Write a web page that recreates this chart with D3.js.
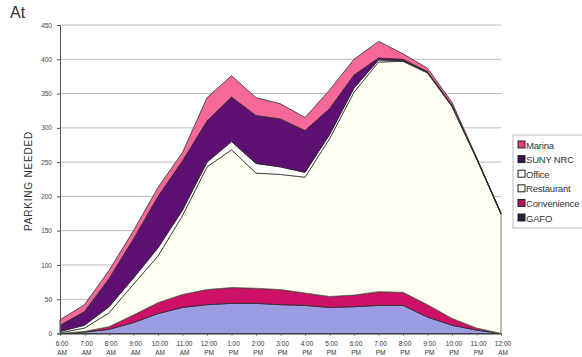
<!DOCTYPE html>
<html>
<head>
<meta charset="utf-8">
<script src="https://cdn.jsdelivr.net/npm/d3@7"></script>
<style>
  body { margin: 0; background: #fff; }
  svg { display: block; font-family: Arial, "Liberation Sans", sans-serif; }
</style>
</head>
<body>
<svg id="chart" width="582" height="357"></svg>
<script>
const HOURS = ['6:00 AM', '7:00 AM', '8:00 AM', '9:00 AM', '10:00 AM', '11:00 AM', '12:00 PM',
  '1:00 PM', '2:00 PM', '3:00 PM', '4:00 PM', '5:00 PM', '6:00 PM', '7:00 PM', '8:00 PM',
  '9:00 PM', '10:00 PM', '11:00 PM', '12:00 AM']

// stacked bottom -> top
const GAFO = [0, 2, 6, 16, 29, 38, 42, 44, 44, 42, 41, 38, 39, 41, 41, 24, 12, 5, 0]
const CONVENIENCE = [0, 1, 4, 11, 16, 19, 22, 23, 22, 22, 18, 16, 17, 20, 19, 18, 10, 3, 0]
const RESTAURANT = [1, 5, 20, 45, 68, 115, 179, 201, 168, 168, 169, 230, 296, 335, 337, 338, 309, 247, 174]
const OFFICE = [2, 4, 9, 9, 12, 8, 7, 12, 14, 11, 7, 6, 6, 3, 1, 1, 1, 1, 1]
const SUNY_NRC = [9, 20, 41, 57, 75, 72, 60, 65, 70, 70, 61, 38, 19, 3, 2, 1, 1, 0, 0]
const MARINA = [8, 10, 12, 12, 13, 12, 34, 31, 26, 22, 19, 27, 23, 24, 8, 5, 4, 1, 0]

const Y_TICKS = [0, 50, 100, 150, 200, 250, 300, 350, 400, 450]

const series = [
  {key: 'GAFO', values: GAFO, fill: '#9c9ce2', swatch: '#2a2040'},
  {key: 'Convenience', values: CONVENIENCE, fill: '#cc1166', swatch: '#b0105a'},
  {key: 'Restaurant', values: RESTAURANT, fill: '#fffff2', swatch: '#ffffff'},
  {key: 'Office', values: OFFICE, fill: '#ffffff', swatch: '#ffffff'},
  {key: 'SUNY NRC', values: SUNY_NRC, fill: '#5e0f72', swatch: '#3a1050'},
  {key: 'Marina', values: MARINA, fill: '#f7689a', swatch: '#e0447f'},
]

const rows = HOURS.map((h, i) => {
  const row = {hour: h}
  series.forEach((s) => { row[s.key] = s.values[i] })
  return row
})

const svg = d3.select('#chart')
const margins = {top: 25, right: 81, bottom: 23.5, left: 60}
const width = 582 - margins.left - margins.right
const height = 357 - margins.top - margins.bottom

const x = d3.scalePoint().domain(HOURS).range([margins.left, margins.left + width])
const y = d3.scaleLinear().domain([0, 450]).range([margins.top + height, margins.top])

// title
svg.append('text')
  .attr('x', 10).attr('y', 18)
  .attr('font-size', 16)
  .attr('fill', '#333')
  .text('At')

// gridlines
svg.append('g')
  .selectAll('line')
  .data(Y_TICKS.filter((d) => d > 0))
  .join('line')
  .attr('x1', margins.left).attr('x2', margins.left + width)
  .attr('y1', (d) => y(d)).attr('y2', (d) => y(d))
  .attr('stroke', '#a8a8a8')
  .attr('stroke-width', 0.8)

// stacked areas
const stack = d3.stack().keys(series.map((s) => s.key))
const layers = stack(rows)
const area = d3.area()
  .x((d) => x(d.data.hour))
  .y0((d) => y(d[0]))
  .y1((d) => y(d[1]))

svg.append('g')
  .selectAll('path')
  .data(layers)
  .join('path')
  .attr('d', area)
  .attr('fill', (d, i) => series[i].fill)
  .attr('stroke', (d, i) => series[i].key === 'Restaurant' ? '#4a5a40' : '#2a2a2a')
  .attr('stroke-width', 0.8)
  .attr('stroke-linejoin', 'round')

// y axis
const yAxis = svg.append('g')
  .attr('transform', `translate(${margins.left},0)`)
  .call(d3.axisLeft(y).tickValues(Y_TICKS).tickSize(3).tickPadding(5))
yAxis.select('.domain').attr('stroke', '#555')
yAxis.selectAll('.tick line').attr('stroke', '#555')
yAxis.selectAll('.tick text').attr('font-size', 6.5).attr('fill', '#444')

// x axis
const xAxis = svg.append('g')
  .attr('transform', `translate(0,${y(0)})`)
  .call(d3.axisBottom(x).tickSize(2).tickFormat(''))
xAxis.select('.domain').attr('stroke', '#333')
xAxis.selectAll('.tick line').attr('stroke', '#555')

const xLabels = svg.append('g')
  .selectAll('text')
  .data(HOURS)
  .join('text')
  .attr('x', (d) => x(d) + 2)
  .attr('y', y(0) + 12)
  .attr('text-anchor', 'middle')
  .attr('font-size', 6.5)
  .attr('fill', '#333')
xLabels.append('tspan').text((d) => d.split(' ')[0])
xLabels.append('tspan')
  .attr('x', (d) => x(d) + 2)
  .attr('dy', 9)
  .text((d) => d.split(' ')[1])

// y label
svg.append('text')
  .attr('transform', `translate(32,${margins.top + 156}) rotate(-90)`)
  .attr('text-anchor', 'middle')
  .attr('font-size', 10)
  .attr('letter-spacing', 0.8)
  .attr('fill', '#333')
  .text('PARKING NEEDED')

// legend
const legend = svg.append('g').attr('transform', 'translate(513,135)')
legend.append('rect')
  .attr('width', 80).attr('height', 93)
  .attr('fill', '#fff')
  .attr('stroke', '#aaa')
  .attr('stroke-width', 0.8)

const items = legend.selectAll('g.item')
  .data(series.slice().reverse())
  .join('g')
  .attr('class', 'item')
  .attr('transform', (d, i) => `translate(5,${10 + i * 14.6})`)
items.append('rect')
  .attr('x', 0).attr('y', -4)
  .attr('width', 7).attr('height', 7)
  .attr('fill', (d) => d.swatch)
  .attr('stroke', '#222')
  .attr('stroke-width', 1)
items.append('text')
  .attr('x', 8).attr('y', 3.5)
  .attr('font-size', 9.5)
  .attr('letter-spacing', -0.2)
  .attr('fill', '#333')
  .text((d) => d.key)
</script>
</body>
</html>
